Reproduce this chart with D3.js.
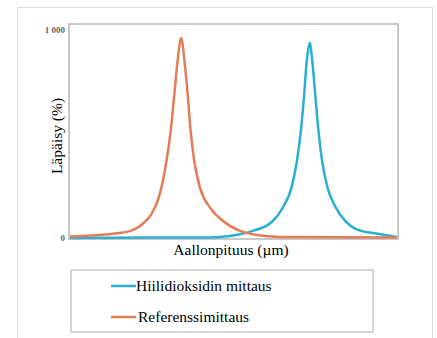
<!DOCTYPE html>
<html>
<head>
<meta charset="utf-8">
<script src="https://cdn.jsdelivr.net/npm/d3@7"></script>
<style>
  body { margin: 0; background: #fff; }
</style>
</head>
<body>
<svg width="437" height="338"></svg>
<script>
// wavelength position (0-100, no scale shown) and transmission (0-1000)
var refX = [0, 6.4, 12.5, 18.5, 22.5, 24.9, 27.1, 28.6, 29.5, 30.9, 31.9, 32.9, 34.0, 35.0, 36.0, 36.8, 38.0, 39.8, 42.9, 46.8, 52.0, 57.1, 64.1, 100]
var refY = [7, 12, 19, 34, 72, 115, 192, 288, 370, 529, 688, 851, 962, 851, 688, 529, 370, 240, 144, 82, 34, 14, 5, 2]

var co2X = [0, 24.6, 42.9, 48.9, 55.9, 61.7, 65.0, 67.7, 69.4, 70.7, 71.6, 72.4, 73.3, 74.1, 75.0, 75.9, 77.1, 78.8, 81.4, 83.9, 87.5, 94.5, 100]
var co2Y = [0, 2, 3, 10, 34, 77, 144, 240, 370, 529, 688, 851, 938, 851, 688, 529, 370, 240, 144, 87, 43, 19, 5]

var yTicks = [0, 1000]
var yTickLabels = ["0", "1 000"]
var seriesNames = ["Hiilidioksidin mittaus", "Referenssimittaus"]
var seriesColors = ["#2aafd2", "#e47c57"]

var serif = "'Liberation Serif', Tinos, 'Times New Roman', 'DejaVu Serif', serif"

var svg = d3.select("svg")

// outer light border
svg.append("rect")
  .attr("x", 17.5).attr("y", 7.5)
  .attr("width", 415).attr("height", 340)
  .attr("fill", "none").attr("stroke", "#dcdcdc")

var plot = {left: 69, right: 398, top: 24, bottom: 239}

var xScale = d3.scaleLinear().domain([0, 100]).range([plot.left + 1, plot.right - 1])
var yScale = d3.scaleLinear().domain([0, 1000]).range([238, 30])

// plot frame
svg.append("rect")
  .attr("x", plot.left).attr("y", plot.top)
  .attr("width", plot.right - plot.left).attr("height", plot.bottom - plot.top)
  .attr("fill", "none").attr("stroke", "#c8c8c8").attr("stroke-width", 2)

var yAxis = d3.axisLeft(yScale)
  .tickValues(yTicks)
  .tickSize(0)
  .tickPadding(4)
  .tickFormat(function(d, i){ return yTickLabels[i] })

svg.append("g")
  .attr("transform", "translate(" + plot.left + ",0)")
  .call(yAxis)
  .call(function(g){ g.select(".domain").remove() })
  .selectAll("text")
  .attr("font-size", 9)
  .attr("font-weight", "bold")
  .attr("fill", "#666")
  .style("font-family", serif)

var line = d3.line()
  .x(function(p){ return xScale(p.x) })
  .y(function(p){ return yScale(p.y) })
  .curve(d3.curveMonotoneX)

var toPoints = function(xs, ys){
  return xs.map(function(x, i){ return {x: x, y: ys[i]} })
}

svg.append("path")
  .datum(toPoints(co2X, co2Y))
  .attr("d", line)
  .attr("fill", "none")
  .attr("stroke", seriesColors[0])
  .attr("stroke-width", 2.5)

svg.append("path")
  .datum(toPoints(refX, refY))
  .attr("d", line)
  .attr("fill", "none")
  .attr("stroke", seriesColors[1])
  .attr("stroke-width", 2.5)

// axis titles
svg.append("text")
  .attr("transform", "translate(62,136) rotate(-90)")
  .attr("text-anchor", "middle")
  .style("font-family", serif)
  .style("font-size", "15.5px")
  .text("Läpäisy (%)")

svg.append("text")
  .attr("x", 231).attr("y", 255)
  .attr("text-anchor", "middle")
  .style("font-family", serif)
  .style("font-size", "15.5px")
  .text("Aallonpituus (µm)")

// legend
svg.append("rect")
  .attr("x", 71).attr("y", 270)
  .attr("width", 302).attr("height", 62)
  .attr("fill", "none").attr("stroke", "#c8c8c8").attr("stroke-width", 1.5)

var legend = svg.selectAll(".leg")
  .data(seriesNames)
  .enter()
  .append("g")
  .attr("class", "leg")
  .attr("transform", function(d, i){ return "translate(111," + (286 + i * 31) + ")" })

legend.append("line")
  .attr("x1", 0).attr("x2", 25)
  .attr("stroke", function(d, i){ return seriesColors[i] })
  .attr("stroke-width", 2.5)

legend.append("text")
  .attr("x", function(d, i){ return i == 0 ? 25 : 27 })
  .attr("y", 5)
  .style("font-family", serif)
  .style("font-size", "15.5px")
  .text(function(d){ return d })
</script>
</body>
</html>
